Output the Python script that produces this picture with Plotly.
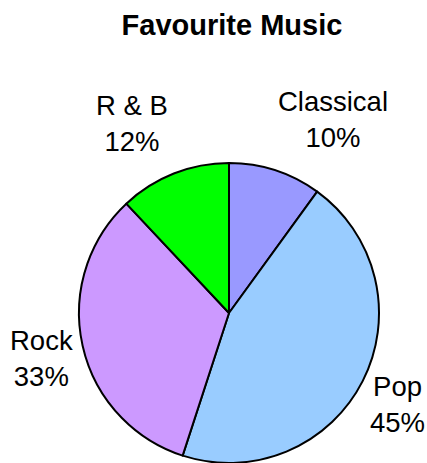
import plotly.graph_objects as go

# Survey results: share of votes per genre
genres = ["Classical", "Pop", "Rock", "R & B"]
votes = [10, 45, 33, 12]
colors = ["#9999FF", "#99CCFF", "#CC99FF", "#00FF00"]

W, H = 427, 463
FONT = "Liberation Sans, Arial, sans-serif"

# where each genre's caption sits (pixel centre of the text block)
label_px = {
    "Classical": (333, 119),
    "Pop": (397, 404),
    "Rock": (41, 358),
    "R & B": (132, 123),
}

total = sum(votes)

fig = go.Figure(
    go.Pie(
        labels=genres,
        values=votes,
        marker=dict(colors=colors, line=dict(color="black", width=2)),
        sort=False,
        direction="clockwise",
        rotation=0,
        textinfo="none",
        hoverinfo="label+percent",
        showlegend=False,
        domain=dict(x=[77 / W, 381 / W], y=[0, 1 - 163 / H]),
    )
)

for g, v in zip(genres, votes):
    px, py = label_px[g]
    fig.add_annotation(
        text=f"{g}<br>{round(100 * v / total)}%",
        x=px / W,
        y=1 - py / H,
        xref="paper",
        yref="paper",
        xanchor="center",
        yanchor="middle",
        showarrow=False,
        font=dict(family=FONT, size=27.5, color="black"),
    )

fig.update_layout(
    width=W,
    height=H,
    margin=dict(l=0, r=0, t=0, b=0),
    paper_bgcolor="white",
    plot_bgcolor="white",
    title=dict(
        text="<b>Favourite Music</b>",
        x=232 / W,
        xanchor="center",
        y=1 - 25 / H,
        yanchor="middle",
        font=dict(family=FONT, size=29, color="black"),
    ),
)

fig.write_html("out.html")
